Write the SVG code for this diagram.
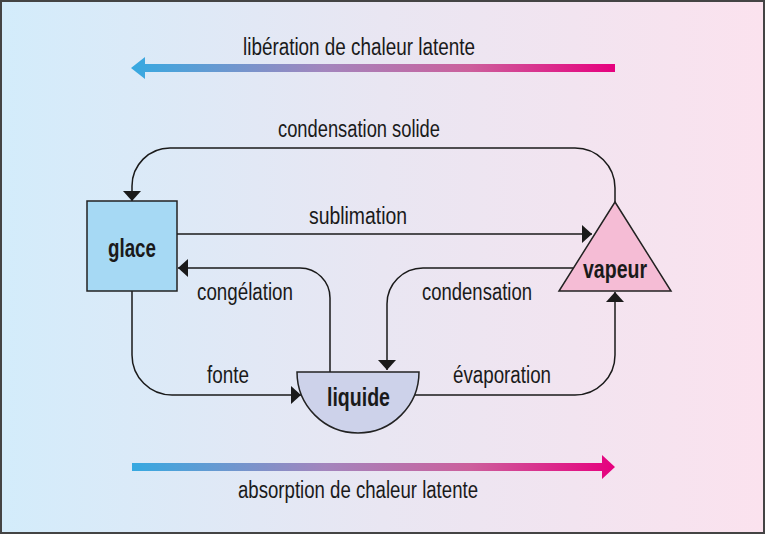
<svg xmlns="http://www.w3.org/2000/svg" width="767" height="537" viewBox="0 0 767 537">
  <defs>
    <linearGradient id="bg" x1="0" y1="0" x2="1" y2="0">
      <stop offset="0" stop-color="#d3ecfb"/>
      <stop offset="0.5" stop-color="#e9e6f2"/>
      <stop offset="1" stop-color="#fbe2ee"/>
    </linearGradient>
    <linearGradient id="heat" gradientUnits="userSpaceOnUse" x1="131" y1="0" x2="615" y2="0">
      <stop offset="0" stop-color="#36a9e1"/>
      <stop offset="0.4" stop-color="#a385bd"/>
      <stop offset="0.7" stop-color="#cc5f9c"/>
      <stop offset="1" stop-color="#e6007e"/>
    </linearGradient>
    <marker id="ah" viewBox="0 0 10 18" refX="10" refY="9" markerWidth="10" markerHeight="18" markerUnits="userSpaceOnUse" orient="auto">
      <path d="M0,0 L10,9 L0,18 z" fill="#1a1a1a"/>
    </marker>
  </defs>
  <style>
    .lbl { font-family: "Liberation Sans Narrow", "Liberation Sans", sans-serif; font-size: 23px; fill: #1a1a1a; }
    .node-t { font-family: "Liberation Sans Narrow", "Liberation Sans", sans-serif; font-size: 25px; font-weight: bold; fill: #1a1a1a; }
    .shape { stroke: #222; stroke-width: 1.5; }
    .conn { fill: none; stroke: #1a1a1a; stroke-width: 1.5; marker-end: url(#ah); }
  </style>

  <rect x="1" y="1" width="763" height="532" fill="url(#bg)" stroke="#444" stroke-width="2"/>

  <g id="heat-arrows">
    <path d="M615,64 H145 V57 L131,68 L145,79 V72 H615 z" fill="url(#heat)"/>
    <text class="lbl" x="243" y="55" textLength="232" lengthAdjust="spacingAndGlyphs">libération de chaleur latente</text>
    <path d="M132,463 H602 V455 L615,467 L602,479 V471 H132 z" fill="url(#heat)"/>
    <text class="lbl" x="238" y="498" textLength="240" lengthAdjust="spacingAndGlyphs">absorption de chaleur latente</text>
  </g>

  <g id="connectors">
    <path class="conn" d="M615,202 V188 A40,40 0 0 0 575,148 H170 A38,38 0 0 0 132,186 V201"/>
    <path class="conn" d="M177,234 H592"/>
    <path class="conn" d="M330,372 V298 A30,30 0 0 0 300,268 H178"/>
    <path class="conn" d="M573,268 H423 A36,36 0 0 0 387,304 V370"/>
    <path class="conn" d="M132,291 V355 A40,40 0 0 0 172,395 H301"/>
    <path class="conn" d="M415,395 H575 A40,40 0 0 0 615,355 V292"/>
    <text class="lbl" x="278" y="137" textLength="162" lengthAdjust="spacingAndGlyphs">condensation solide</text>
    <text class="lbl" x="309" y="224" textLength="98" lengthAdjust="spacingAndGlyphs">sublimation</text>
    <text class="lbl" x="197" y="300" textLength="96" lengthAdjust="spacingAndGlyphs">congélation</text>
    <text class="lbl" x="422" y="300" textLength="110" lengthAdjust="spacingAndGlyphs">condensation</text>
    <text class="lbl" x="207" y="383" textLength="42" lengthAdjust="spacingAndGlyphs">fonte</text>
    <text class="lbl" x="453" y="383" textLength="98" lengthAdjust="spacingAndGlyphs">évaporation</text>
  </g>

  <g id="glace">
    <rect class="shape" x="87" y="201" width="90" height="90" fill="#a6d9f4"/>
    <text class="node-t" x="108" y="257" textLength="48" lengthAdjust="spacingAndGlyphs">glace</text>
  </g>

  <g id="vapeur">
    <polygon class="shape" points="615,202 671,291 559,291" fill="#f5bcd5"/>
    <text class="node-t" x="583" y="278" textLength="64" lengthAdjust="spacingAndGlyphs">vapeur</text>
  </g>

  <g id="liquide">
    <path class="shape" d="M297,372 H419 A61,61 0 0 1 297,372 z" fill="#cdd2ea"/>
    <text class="node-t" x="327" y="406" textLength="63" lengthAdjust="spacingAndGlyphs">liquide</text>
  </g>
</svg>
